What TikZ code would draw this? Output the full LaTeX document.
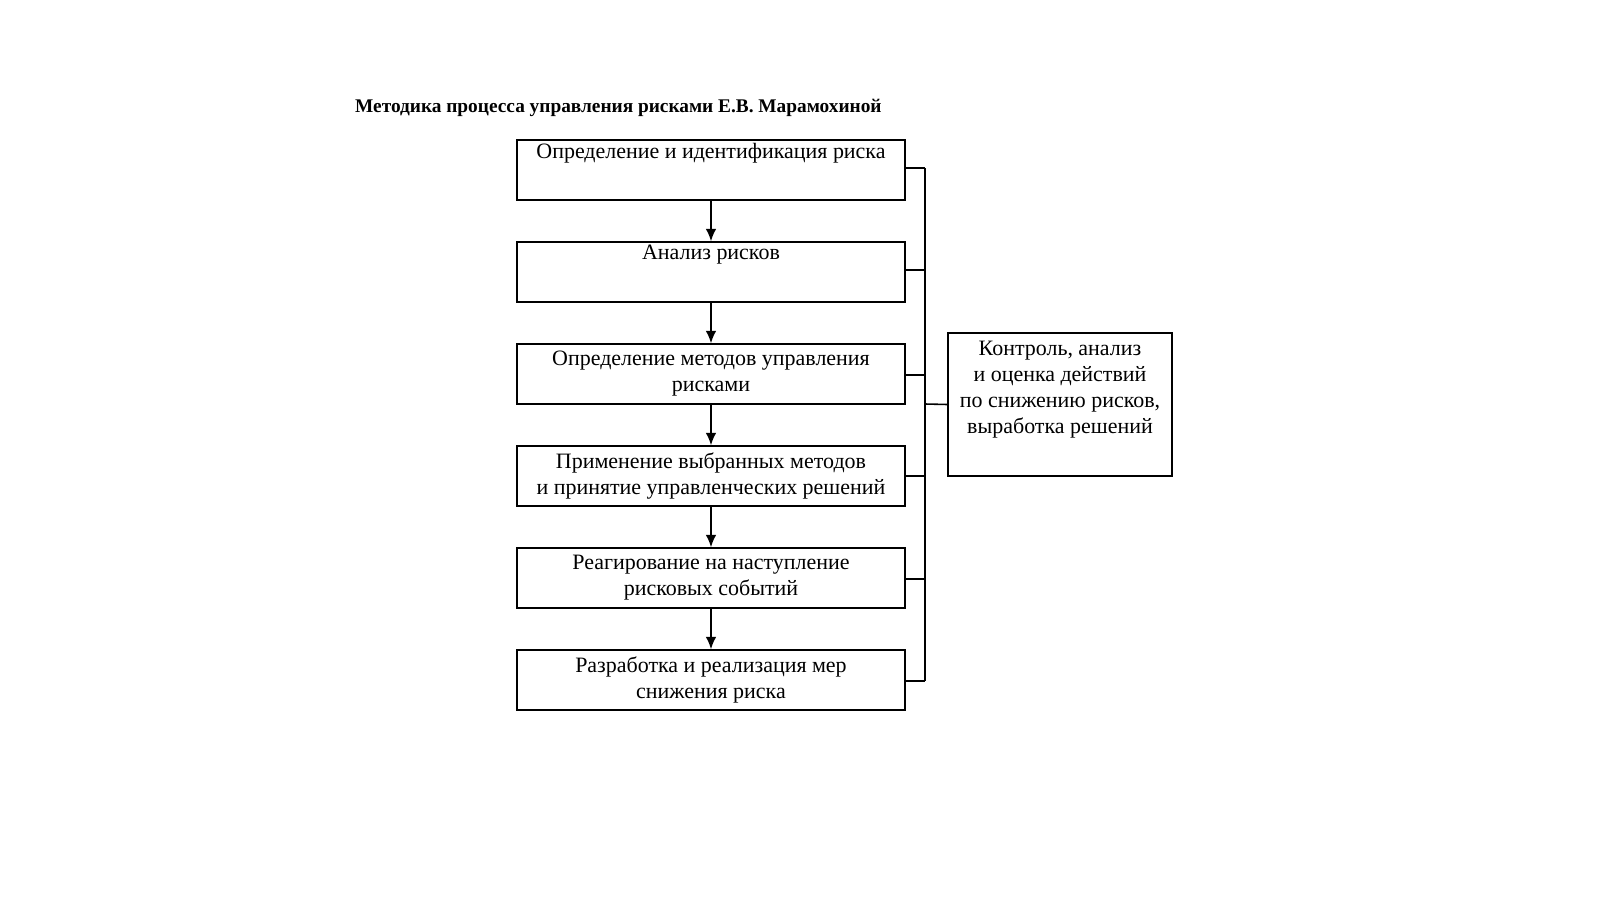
\documentclass[tikz,border=0pt]{standalone}
\usepackage{fontspec}
\setmainfont{Liberation Serif}
\usetikzlibrary{arrows.meta}
\begin{document}
\begin{tikzpicture}[x=0.02cm,y=-0.02cm,
  box/.style={draw,line width=0.9pt,minimum width=7.76cm,minimum height=1.2cm,align=center,font=\fontsize{12.5}{14.8}\selectfont,inner sep=1pt},
  arr/.style={-{Latex[length=7pt,width=6pt]},line width=0.9pt},
  ln/.style={line width=0.9pt}]
\useasboundingbox (0,0) rectangle (1600,899);
\node[anchor=west,font=\bfseries\fontsize{11}{13}\selectfont] (t) at (349,108) {Методика процесса управления рисками Е.В. Марамохиной};
\node[box] (b1) at (711,170) {Определение и идентификация риска\\[0.6em]};
\node[box] (b2) at (711,272) {Анализ рисков\\[0.6em]};
\node[box] (b3) at (711,374) {Определение методов управления\\рисками};
\node[box] (b4) at (711,476) {Применение выбранных методов\\и принятие управленческих решений};
\node[box] (b5) at (711,578) {Реагирование на наступление\\рисковых событий};
\node[box] (b6) at (711,680) {Разработка и реализация мер\\снижения риска};
\node[box,minimum width=4.48cm,minimum height=2.86cm] (r) at (1060,404.5) {Контроль, анализ\\и оценка действий\\по снижению рисков,\\выработка решений\\[0.4em]};
\foreach \a/\b in {b1/b2,b2/b3,b3/b4,b4/b5,b5/b6} \draw[arr] (\a) -- (\b);
\coordinate (top) at (925,168);
\coordinate (bot) at (925,681);
\draw[ln] (top) -- (bot);
\foreach \n/\y in {b1/168,b2/270,b3/375,b4/476,b5/579,b6/681} \draw[ln] (\n.east |- 0,\y) -- (925,\y);
\draw[ln] (925,404) -- (r.west);
\end{tikzpicture}
\end{document}
